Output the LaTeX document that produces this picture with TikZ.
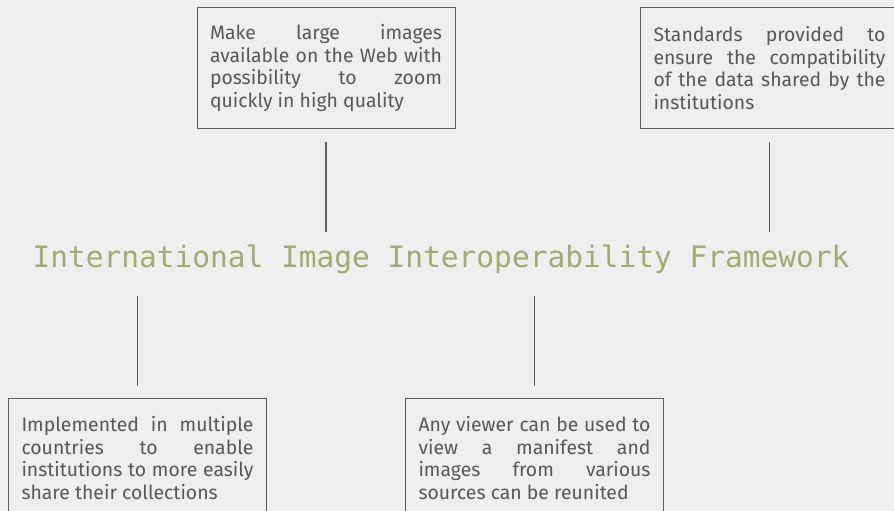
\documentclass[tikz,border=0pt]{standalone}
\usepackage{fontspec}
\setmainfont{Fira Sans}
\newfontfamily\titlefont{DejaVu Sans Mono}
\definecolor{bg}{HTML}{EEEEEE}
\definecolor{txt}{HTML}{585858}
\definecolor{edge}{HTML}{5E5E5E}
\definecolor{olive}{HTML}{A0AD6E}
\newcommand\boxfont{\fontsize{19.4pt}{22.7pt}\selectfont}
\tikzset{
  infobox/.style={draw=edge, line width=1pt, text=txt, text width=232pt,
    minimum width=258pt, minimum height=120pt, inner xsep=13pt, inner ysep=0pt,
    align=justify, font=\boxfont},
  titletext/.style={text=olive, inner sep=0pt, anchor=base, text height=35pt, text depth=29pt,
    font=\fontsize{29.5pt}{34pt}\selectfont\titlefont},
  link/.style={draw=edge, line width=1.1pt}
}
\begin{document}
\hyphenpenalty=10000
\exhyphenpenalty=10000
\begin{tikzpicture}[x=1pt, y=-1pt]
\fill[bg] (0,0) rectangle (894,511);
\useasboundingbox (0,0) rectangle (894,511);
\clip (0,0) rectangle (894,511);
\node[titletext] (tt) at (441,267) {International Image Interoperability Framework};
\node[infobox] (b1) at (326,68) {Make large images\linebreak available on the Web with\linebreak possibility to zoom\linebreak quickly in high quality};
\node[infobox] (b2) at (769.5,68) {Standards provided to\linebreak ensure the compatibility\linebreak of the data shared by the\linebreak institutions};
\node[infobox] (b3) at (137.5,458) {Implemented in multiple\linebreak countries to enable\linebreak institutions to more easily\linebreak share their collections};
\node[infobox] (b4) at (534.5,458) {Any viewer can be used to\linebreak view a manifest and\linebreak images from various\linebreak sources can be reunited};
\draw[link] ([yshift=-13pt]b1.south) -- (b1.south |- tt.north);
\draw[link] ([yshift=-13pt]b2.south) -- (b2.south |- tt.north);
\draw[link] (tt.south -| b3.north) -- ([yshift=12pt]b3.north);
\draw[link] (tt.south -| b4.north) -- ([yshift=12pt]b4.north);
\end{tikzpicture}
\end{document}
